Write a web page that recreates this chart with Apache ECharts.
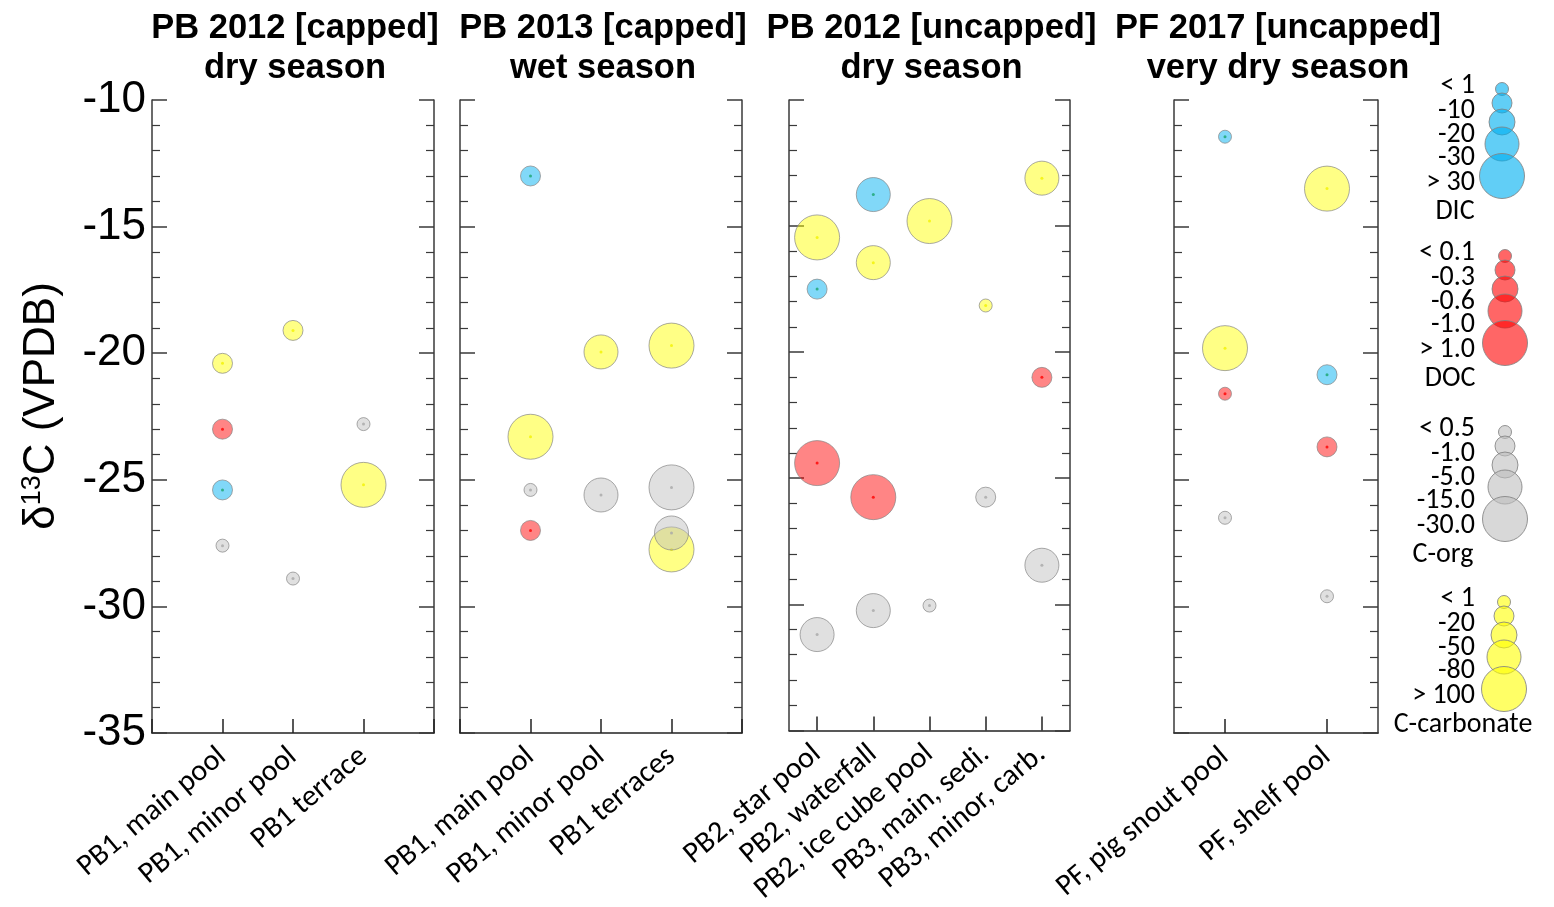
<!DOCTYPE html>
<html><head><meta charset="utf-8">
<script src="https://cdn.jsdelivr.net/npm/echarts@6/dist/echarts.min.js"></script>
<style>html,body{margin:0;padding:0;background:#fff}#c{width:1554px;height:907px}</style>
</head><body><div id="c"></div>
<script>
// ---------------- DATA ----------------
const yTickLabels = [-10, -15, -20, -25, -30, -35];
const yName = ['δ', '13', 'C (VPDB)'];
const panelTitles = [
  ['PB 2012 [capped]', 'dry season'],
  ['PB 2013 [capped]', 'wet season'],
  ['PB 2012 [uncapped]', 'dry season'],
  ['PF 2017 [uncapped]', 'very dry season']
];
const cats1 = ['PB1, main pool', 'PB1, minor pool', 'PB1 terrace'];
const cats2 = ['PB1, main pool', 'PB1, minor pool', 'PB1 terraces'];
const cats3 = ['PB2, star pool', 'PB2, waterfall', 'PB2, ice cube pool', 'PB3, main, sedi.', 'PB3, minor, carb.'];
const cats4 = ['PF, pig snout pool', 'PF, shelf pool'];

// points: [category index, δ13C, concentration class 1..5]
const carb1 = [[0, -20.4, 2], [1, -19.1, 2], [2, -25.2, 5]];
const corg1 = [[0, -27.6, 1], [1, -28.9, 1], [2, -22.8, 1]];
const doc1  = [[0, -23.0, 2]];
const dic1  = [[0, -25.4, 2]];

const carb2 = [[0, -23.3, 5], [1, -19.95, 4], [2, -19.7, 5], [2, -27.75, 5]];
const corg2 = [[0, -25.4, 1], [1, -25.6, 4], [2, -25.3, 5], [2, -27.1, 4]];
const doc2  = [[0, -27.0, 2]];
const dic2  = [[0, -13.0, 2]];

const carb3 = [[0, -15.45, 5], [1, -16.45, 4], [2, -14.8, 5], [3, -18.15, 1], [4, -13.1, 4]];
const corg3 = [[0, -31.2, 4], [1, -30.25, 4], [2, -30.05, 1], [3, -25.75, 2], [4, -28.45, 4]];
const doc3  = [[0, -24.4, 5], [1, -25.75, 5], [4, -21.0, 2]];
const dic3  = [[0, -17.5, 2], [1, -13.75, 4]];

const carb4 = [[0, -19.8, 5], [1, -13.5, 5]];
const corg4 = [[0, -26.5, 1], [1, -29.6, 1]];
const doc4  = [[0, -21.6, 1], [1, -23.7, 2]];
const dic4  = [[0, -11.45, 1], [1, -20.85, 2]];

const legendDIC  = ['< 1', '-10', '-20', '-30', '> 30'];
const legendDOC  = ['< 0.1', '-0.3', '-0.6', '-1.0', '> 1.0'];
const legendCorg = ['< 0.5', '-1.0', '-5.0', '-15.0', '-30.0'];
const legendCarb = ['< 1', '-20', '-50', '-80', '> 100'];

// ---------------- STYLE / LAYOUT ----------------
const SIZE_PX = [13, 20, 26, 34, 45];
const FONT_C = 'Carlito, Lato, "Open Sans", sans-serif';
const FONT_A = '"Liberation Sans", Arial, sans-serif';
const AX = '#3a3a3a';
const panels = [
  {left: 152, width: 282, cats: cats1, pad: true,  sets: [carb1, corg1, doc1, dic1]},
  {left: 460, width: 282, cats: cats2, pad: true,  sets: [carb2, corg2, doc2, dic2]},
  {left: 789, width: 281, cats: cats3, pad: false, sets: [carb3, corg3, doc3, dic3]},
  {left: 1174, width: 204, cats: cats4, pad: false, sets: [carb4, corg4, doc4, dic4]}
];
const kinds = [
  {fill: 'rgba(255,255,0,0.6)',   dot: '#f2f200'},
  {fill: 'rgba(190,190,190,0.6)', dot: '#a8a8a8'},
  {fill: 'rgba(255,0,0,0.6)',     dot: '#ff0000'},
  {fill: 'rgba(0,176,240,0.62)',  dot: '#1aa56e'}
];
const TOP = 100, H = 633;

const grid = [], xAxis = [], yAxis = [], series = [];
panels.forEach((p, i) => {
  grid.push({left: p.left, width: p.width, top: TOP, height: H});
  xAxis.push({
    type: 'category', gridIndex: i,
    data: p.pad ? [''].concat(p.cats, ['']) : p.cats,
    boundaryGap: !p.pad,
    axisLine: {show: true, lineStyle: {color: '#222', width: 1.5}},
    axisTick: {show: true, inside: true, length: 14, alignWithLabel: true, interval: 0,
               lineStyle: {color: '#222', width: 1.5}},
    axisLabel: {interval: 0, rotate: 40, fontSize: 30, color: '#000', fontFamily: FONT_C, margin: 20},
    splitLine: {show: false}
  });
  ['left', 'right'].forEach(pos => {
    yAxis.push({
      type: 'value', gridIndex: i, position: pos, min: -35, max: -10, interval: 5,
      axisLine: {show: true, onZero: false, lineStyle: {color: AX, width: 1.5}},
      axisTick: {show: true, inside: true, length: 15, lineStyle: {color: AX, width: 1.5}},
      minorTick: {show: true, splitNumber: 5, length: 8, lineStyle: {color: AX, width: 1.2}},
      splitLine: {show: false}, minorSplitLine: {show: false},
      axisLabel: {show: i === 0 && pos === 'left', fontSize: 44, color: '#000', fontFamily: FONT_A,
                  margin: 6, padding: [0, 0, 28, 0],
                  formatter: v => yTickLabels.indexOf(v) >= 0 ? String(v) : ''}
    });
  });
  const shift = p.pad ? 1 : 0;
  p.sets.forEach((set, k) => {
    const data = set.map(d => [d[0] + shift, d[1], d[2]]);
    series.push({
      type: 'scatter', xAxisIndex: i, yAxisIndex: 2 * i, data: data,
      symbolSize: d => SIZE_PX[d[2] - 1],
      itemStyle: {color: kinds[k].fill, borderColor: 'rgba(130,130,130,0.85)', borderWidth: 1},
      emphasis: {disabled: true}, z: 2 + k
    });
    series.push({
      type: 'scatter', xAxisIndex: i, yAxisIndex: 2 * i, data: data,
      symbolSize: 3, itemStyle: {color: kinds[k].dot}, emphasis: {disabled: true}, z: 2 + k
    });
  });
});

// graphic: titles, y name, legend
const graphic = [];
panels.forEach((p, i) => {
  const cx = p.left + p.width / 2;
  panelTitles[i].forEach((t, j) => {
    graphic.push({type: 'text', x: cx + 2, y: 28 + 40 * j,
      style: {text: t, font: 'bold 34.5px ' + FONT_A, fill: '#000', align: 'center', verticalAlign: 'middle'}});
  });
});
graphic.push({type: 'text', x: 42, y: 406, rotation: Math.PI / 2,
  style: {text: '{a|' + yName[0] + '}{s|' + yName[1] + '}{a|' + yName[2] + '}',
    align: 'center', verticalAlign: 'middle',
    rich: {a: {fontSize: 44, fontFamily: FONT_A, color: '#000'},
           s: {fontSize: 27, fontFamily: FONT_A, color: '#000', verticalAlign: 'top', padding: [0, 0, 18, 0]}}}});

const legendGroups = [
  {labels: legendDIC, name: 'DIC', y0: 89, cx: 1502, nameX: 1455, k: 3},
  {labels: legendDOC, name: 'DOC', y0: 256, cx: 1505, nameX: 1450, k: 2},
  {labels: legendCorg, name: 'C-org', y0: 432, cx: 1505, nameX: 1443, k: 1},
  {labels: legendCarb, name: 'C-carbonate', y0: 602, cx: 1504, nameX: 1463, k: 0}
];
const circOff = [0, 14, 33, 55, 87];
const labOff = [0, 25, 49, 72, 97];
legendGroups.forEach(g => {
  g.labels.forEach((lab, j) => {
    graphic.push({type: 'circle', shape: {cx: g.cx, cy: g.y0 + circOff[j], r: SIZE_PX[j] / 2},
      style: {fill: kinds[g.k].fill, stroke: 'rgba(130,130,130,0.85)', lineWidth: 1}, z: 10 + j});
    graphic.push({type: 'text', x: 1475, y: g.y0 - 3 + labOff[j],
      style: {text: lab, font: '28px ' + FONT_C, fill: '#000', align: 'right', verticalAlign: 'middle'}});
  });
  graphic.push({type: 'text', x: g.nameX, y: g.y0 - 3 + 126,
    style: {text: g.name, font: '28px ' + FONT_C, fill: '#000', align: 'center', verticalAlign: 'middle'}});
});

const chart = echarts.init(document.getElementById('c'), null, {renderer: 'canvas'});
chart.setOption({animation: false, backgroundColor: '#fff', grid, xAxis, yAxis, series, graphic});
</script></body></html>
